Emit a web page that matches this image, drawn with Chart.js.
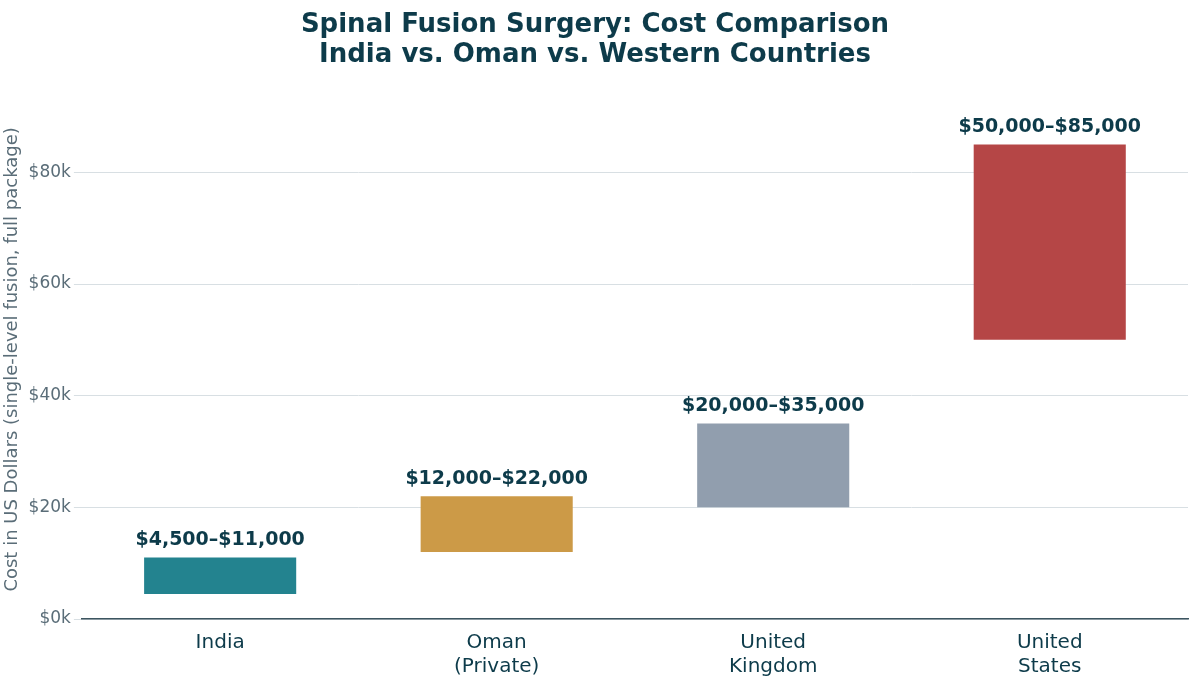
<!DOCTYPE html>
<html>
<head>
<meta charset="utf-8">
<script src="https://cdn.jsdelivr.net/npm/chart.js@4"></script>
<style>
  html, body { margin: 0; padding: 0; background: #fff; }
  #wrap { width: 1200px; height: 687px; }
</style>
</head>
<body>
<div id="wrap"><canvas id="chart"></canvas></div>
<script>
const categories = [['India'], ['Oman', '(Private)'], ['United', 'Kingdom'], ['United', 'States']];
const lowCosts = [4500, 12000, 20000, 50000];
const highCosts = [11000, 22000, 35000, 85000];
const rangeLabels = ['$4,500–$11,000', '$12,000–$22,000', '$20,000–$35,000', '$50,000–$85,000'];
const tickValues = [0, 20000, 40000, 60000, 80000];
const barColors = ['#23838f', '#cc9a47', '#919eae', '#b54646'];

const dark = '#0d3b4a';

// write the range text above each bar
const rangeText = {
    id: 'rangeText',
    afterDatasetsDraw(chart) {
        const ctx = chart.ctx;
        const meta = chart.getDatasetMeta(0);
        ctx.save();
        ctx.font = 'bold 19px "DejaVu Sans"';
        ctx.fillStyle = dark;
        ctx.textAlign = 'center';
        ctx.textBaseline = 'bottom';
        meta.data.forEach((bar, i) => {
            ctx.fillText(rangeLabels[i], bar.x, bar.y - 8);
        });
        ctx.restore();
    }
};

new Chart(document.getElementById('chart'), {
    type: 'bar',
    data: {
        labels: categories,
        datasets: [{
            data: lowCosts.map((lo, i) => [lo, highCosts[i]]),
            backgroundColor: barColors,
            borderWidth: 0,
            borderSkipped: false,
            barPercentage: 0.55,
            categoryPercentage: 1,
        }],
    },
    options: {
        responsive: true,
        maintainAspectRatio: false,
        animation: false,
        layout: { padding: { left: 2, right: 12, top: 4, bottom: 4 } },
        plugins: {
            legend: { display: false },
            tooltip: { enabled: false },
            title: {
                display: true,
                text: ['Spinal Fusion Surgery: Cost Comparison', 'India vs. Oman vs. Western Countries'],
                color: dark,
                font: { family: 'DejaVu Sans', size: 26, weight: 'bold', lineHeight: 1.15 },
                padding: { top: 6, bottom: 30 },
            },
        },
        scales: {
            x: {
                grid: { display: false },
                border: { color: '#3d5560', width: 1.5 },
                ticks: {
                    color: dark,
                    font: { family: 'DejaVu Sans', size: 20 },
                    padding: 4,
                },
            },
            y: {
                min: 0,
                max: 93000,
                border: { display: false },
                grid: { color: '#d8dfe3', drawTicks: true, tickLength: 8 },
                afterBuildTicks: axis => {
                    axis.ticks = tickValues.map(v => ({ value: v }));
                },
                ticks: {
                    color: '#5a6d78',
                    font: { family: 'DejaVu Sans', size: 17 },
                    callback: v => '$' + (v / 1000) + 'k',
                },
                title: {
                    display: true,
                    text: 'Cost in US Dollars (single-level fusion, full package)',
                    color: '#5a6d78',
                    font: { family: 'DejaVu Sans', size: 18 },
                    padding: { top: 0, bottom: 2 },
                },
            },
        },
    },
    plugins: [rangeText],
});
</script>
</body>
</html>
